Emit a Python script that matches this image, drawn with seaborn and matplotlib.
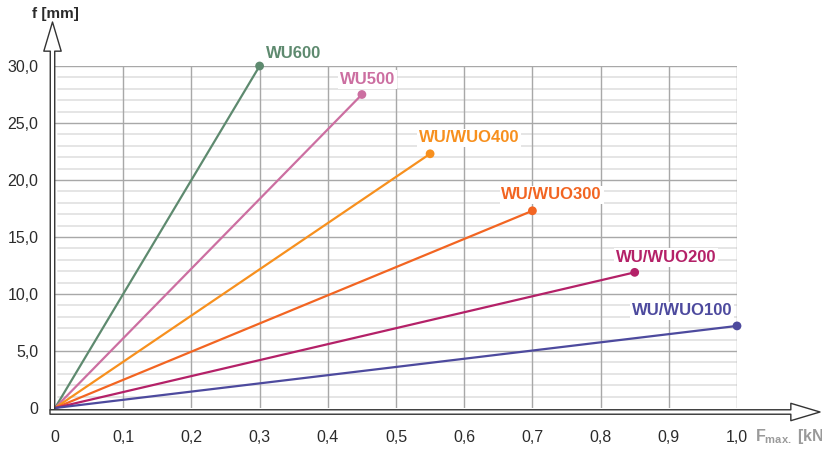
import pandas as pd
import matplotlib.pyplot as plt
import seaborn as sns

# ── Data ──────────────────────────────────────────────────────────────────────
series = ['WU600', 'WU500', 'WU/WUO400', 'WU/WUO300', 'WU/WUO200', 'WU/WUO100']
fmax = [0.30, 0.45, 0.55, 0.70, 0.85, 1.00]      # kN
deflection = [30.0, 27.5, 22.3, 17.3, 11.9, 7.2]  # mm

x_ticks = [0, 0.1, 0.2, 0.3, 0.4, 0.5, 0.6, 0.7, 0.8, 0.9, 1.0]
x_ticklabels = ['0', '0,1', '0,2', '0,3', '0,4', '0,5', '0,6', '0,7', '0,8', '0,9', '1,0']
y_ticks = [0, 5, 10, 15, 20, 25, 30]
y_ticklabels = ['0', '5,0', '10,0', '15,0', '20,0', '25,0', '30,0']

colors = {
    'WU600': '#5e8a6f',
    'WU500': '#cc6fa1',
    'WU/WUO400': '#f7901e',
    'WU/WUO300': '#f26522',
    'WU/WUO200': '#b42168',
    'WU/WUO100': '#4d4a9e',
}
# label offsets (pixels) relative to the end point
label_offsets = {
    'WU600': (6, 13),
    'WU500': (-22, 15),
    'WU/WUO400': (-11, 16),
    'WU/WUO300': (-31, 16),
    'WU/WUO200': (-19, 15),
    'WU/WUO100': (-105, 15),
}

rows = []
for name, x, y in zip(series, fmax, deflection):
    rows.append({'series': name, 'F': 0.0, 'f': 0.0})
    rows.append({'series': name, 'F': x, 'f': y})
df = pd.DataFrame(rows)
ends = pd.DataFrame({'series': series, 'F': fmax, 'f': deflection})

# ── Plot ──────────────────────────────────────────────────────────────────────
sns.set_theme(style="white")
plt.rcParams['font.family'] = ['Liberation Sans', 'DejaVu Sans']

fig = plt.figure(figsize=(8.22, 4.5), dpi=100)
ax = fig.add_axes([55 / 822, 42 / 450, 682 / 822, 342 / 450])

# grid
for v in range(1, 30):
    if v % 5:
        ax.axhline(v, color='#e3e3e3', lw=1.3, zorder=0, xmin=0.005)
for v in y_ticks[1:]:
    ax.axhline(v, color='#a8a8a8', lw=1.0, zorder=0.5)
for v in x_ticks[1:]:
    ax.axvline(v, color='#a8a8a8', lw=1.0, zorder=0.5)

sns.lineplot(data=df, x='F', y='f', hue='series', palette=colors,
             linewidth=1.6, legend=False, ax=ax, zorder=3, clip_on=False)
sns.scatterplot(data=ends, x='F', y='f', hue='series', palette=colors,
                s=40, edgecolor='none', legend=False, ax=ax, zorder=4, clip_on=False)

for _, r in ends.iterrows():
    ax.annotate(r['series'], (r['F'], r['f']), xytext=label_offsets[r['series']],
                textcoords='offset pixels', ha='left', va='center',
                fontsize=12, fontweight='bold', color=colors[r['series']],
                bbox=dict(boxstyle='square,pad=0.1', fc='white', ec='none'),
                zorder=5, annotation_clip=False)

ax.set_xlim(0, 1.0)
ax.set_ylim(0, 30)
ax.set_xticks(x_ticks)
ax.set_xticklabels(x_ticklabels)
ax.set_yticks(y_ticks)
ax.set_yticklabels(y_ticklabels)
ax.tick_params(axis='both', labelsize=11.5, labelcolor='#2b2b2b',
               width=1.0, color='#a8a8a8', direction='out')
ax.tick_params(axis='x', length=9, pad=7)
ax.tick_params(axis='y', length=6, pad=6)
for s in ax.spines.values():
    s.set_visible(False)
ax.set_xlabel('')
ax.set_ylabel('')

# hollow arrow axes
arrow_kw = dict(arrowstyle='simple,tail_width=0.32,head_width=1.25,head_length=2.1',
                fc='white', ec='#333333', lw=1.0, mutation_scale=10,
                shrinkA=0, shrinkB=0)
ax.annotate('', xy=(52.5, 450 - 22), xytext=(52.5, 450 - 410),
            xycoords='figure pixels', textcoords='figure pixels',
            arrowprops=arrow_kw, zorder=6)
ax.annotate('', xy=(820, 450 - 412), xytext=(50, 450 - 412),
            xycoords='figure pixels', textcoords='figure pixels',
            arrowprops=arrow_kw, zorder=6)

fig.text(55 / 822, 1 - 14 / 450, 'f [mm]', ha='center', va='center',
         fontsize=11, fontweight='bold', color='#2b2b2b')
fig.text(755 / 822, 1 - 437 / 450, r'F$_{\mathregular{max.}}$ [kN]', ha='left', va='center',
         fontsize=11.5, fontweight='bold', color='#9a9a9a')

plt.savefig('out.png', dpi=100)
plt.close()
